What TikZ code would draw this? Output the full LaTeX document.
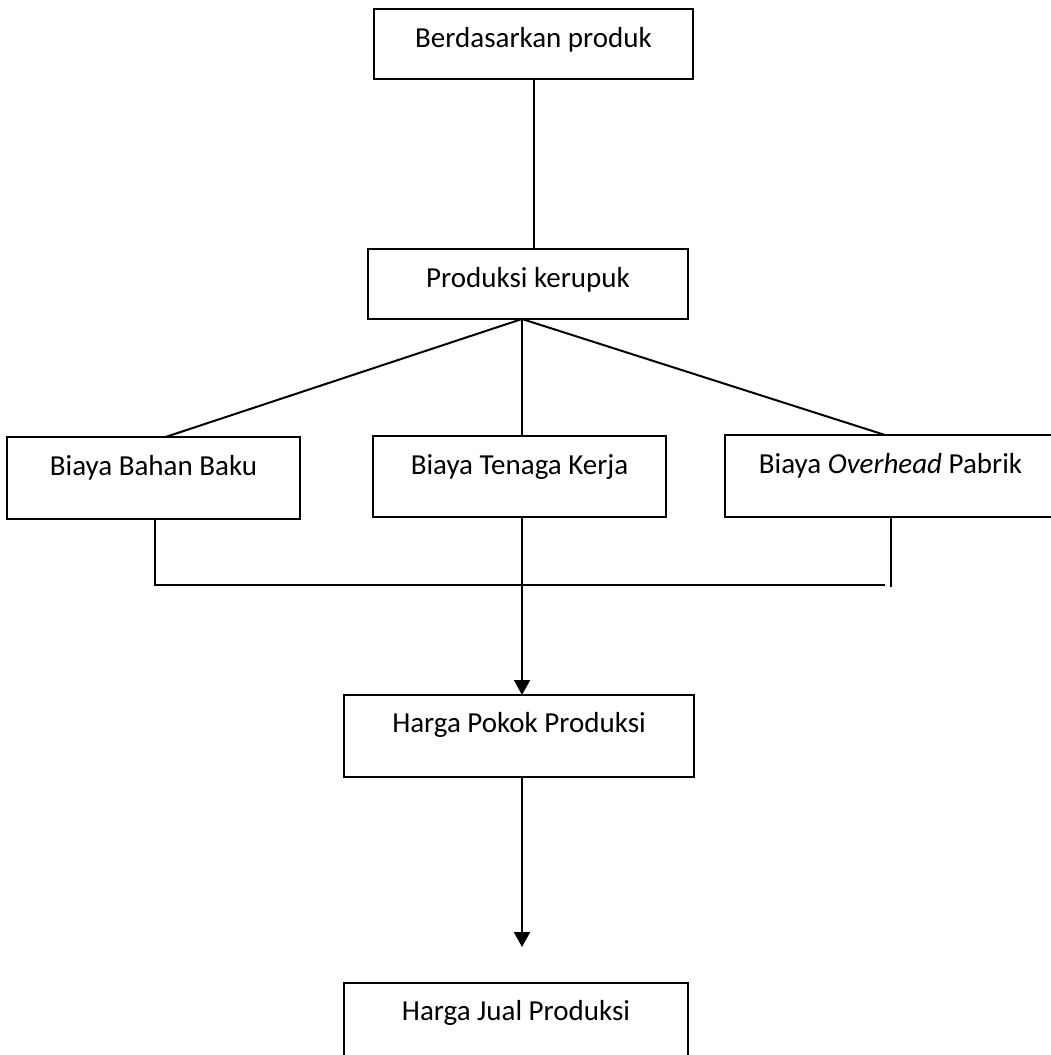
\documentclass[tikz,border=0pt]{standalone}
\usepackage{fontspec}
\setmainfont{Carlito}
\usetikzlibrary{arrows.meta}

\begin{document}
\begin{tikzpicture}[x=1pt, y=-1pt]
    \tikzstyle{box} = [rectangle, draw, line width=2.4pt, inner sep=0pt, outer sep=0pt, anchor=north west, text height=38pt, font=\fontsize{29pt}{35pt}\selectfont]
    \tikzstyle{line} = [draw, line width=2pt]
    \tikzstyle{arrow} = [draw, line width=2pt, -{Triangle[length=15pt, width=16pt]}]

    \useasboundingbox (0,0) rectangle (1051,1055);

    \node [box, minimum width=319pt, minimum height=70pt, text depth=32pt] (ber) at (374,9) {Berdasarkan produk};
    \node [box, minimum width=320pt, minimum height=70pt, text depth=32pt] (prod) at (368,249) {Produksi kerupuk};
    \node [box, minimum width=293pt, minimum height=82pt, text depth=44pt] (bahan) at (7,437) {Biaya Bahan Baku};
    \node [box, minimum width=293pt, minimum height=81pt, text depth=43pt] (tenaga) at (373,436) {Biaya Tenaga Kerja};
    \node [box, minimum width=331pt, minimum height=82pt, text depth=44pt] (over) at (725,435) {Biaya \textit{Overhead} Pabrik};
    \node [box, minimum width=350pt, minimum height=82pt, text depth=45pt, text height=37pt] (pokok) at (344,695) {Harga Pokok Produksi};
    \node [box, minimum width=344pt, minimum height=82pt, text depth=45pt, text height=37pt] (jual) at (344,983) {Harga Jual Produksi};

    \coordinate (hub) at ([xshift=-6pt]prod.south);
    \coordinate (join) at ([xshift=-5.5pt]over.south |- 0,585);
    \coordinate (stop) at (522,947);

    \draw [line] (ber.south) -- (ber.south |- prod.north);
    \draw [line] (hub) -- ([xshift=12pt]bahan.north);
    \draw [line] (hub) -- ([xshift=2.5pt]tenaga.north);
    \draw [line] (hub) -- ([xshift=-5.5pt]over.north);
    \draw [line] ([xshift=1.5pt]bahan.south) |- (join);
    \draw [line] (over.south) -- ++(0,70);
    \draw [arrow] ([xshift=2.5pt]tenaga.south) -- ([xshift=2.5pt]tenaga.south |- pokok.north);
    \draw [arrow] ([xshift=3pt]pokok.south) -- (stop);
\end{tikzpicture}
\end{document}
